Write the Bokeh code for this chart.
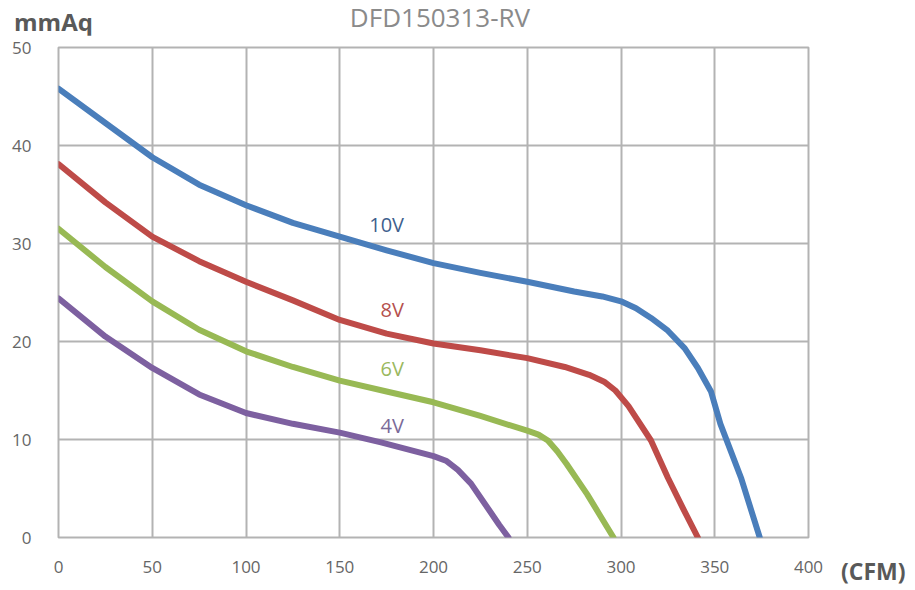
from bokeh.plotting import figure
from bokeh.models import Range1d, Label, FixedTicker, Div
from bokeh.layouts import column, row
from bokeh.embed import file_html
from bokeh.resources import INLINE

# ---- data ----
x_10v = [0, 25, 50, 75, 100, 125, 150, 175, 200, 225, 250, 275, 290, 300, 308, 316, 325, 334, 341, 348, 353, 364, 374]
y_10v = [45.8, 42.3, 38.8, 36.0, 33.9, 32.1, 30.7, 29.3, 28.0, 27.0, 26.1, 25.1, 24.6, 24.1, 23.4, 22.4, 21.1, 19.3, 17.3, 14.9, 11.6, 6.1, 0]

x_8v = [0, 25, 50, 75, 100, 125, 150, 175, 200, 225, 250, 270, 283, 291, 297, 304, 316, 325, 333, 341]
y_8v = [38.1, 34.2, 30.7, 28.2, 26.1, 24.2, 22.2, 20.8, 19.8, 19.1, 18.3, 17.4, 16.6, 15.9, 15.0, 13.4, 9.9, 6.1, 3.0, 0]

x_6v = [0, 25, 50, 75, 100, 125, 150, 175, 200, 225, 250, 256, 261, 266, 271, 282, 289, 296]
y_6v = [31.5, 27.6, 24.1, 21.2, 19.0, 17.4, 16.0, 14.9, 13.8, 12.4, 10.9, 10.5, 9.9, 8.8, 7.5, 4.4, 2.2, 0]

x_4v = [0, 25, 50, 75, 100, 125, 150, 172, 200, 207, 213, 220, 230, 235, 240]
y_4v = [24.4, 20.5, 17.3, 14.6, 12.7, 11.6, 10.7, 9.7, 8.3, 7.8, 6.9, 5.5, 2.7, 1.3, 0]

series_names = ["10V", "8V", "6V", "4V"]
label_x = [175, 178, 178, 178]
label_y = [31.9, 23.3, 17.2, 11.4]

x_ticks = [0, 50, 100, 150, 200, 250, 300, 350, 400]
y_ticks = [0, 10, 20, 30, 40, 50]

title_text = "DFD150313-RV"
y_unit = "mmAq"
x_unit = "(CFM)"

line_colors = ["#4a7ebb", "#be4b48", "#98b954", "#7d60a0"]
text_colors = ["#3f5f8e", "#b5504d", "#9ab85e", "#7a6a98"]
FONT = "Open Sans"

TOP_H = 35
PW, PH = 830, 553
p = figure(width=PW, height=PH, output_backend="svg", toolbar_location=None,
           x_range=Range1d(0, 400), y_range=Range1d(0, 50),
           min_border_left=58, min_border_right=PW - 58 - 750,
           min_border_top=12, min_border_bottom=PH - 12 - 490, margin=0)
p.background_fill_color = "white"
p.border_fill_color = "white"
p.outline_line_color = "#b3b3b3"
p.outline_line_width = 2

for ax in (p.xaxis[0], p.yaxis[0]):
    ax.axis_line_color = None
    ax.major_tick_line_color = None
    ax.minor_tick_line_color = None
    ax.major_label_text_font = FONT
    ax.major_label_text_font_size = "17px"
    ax.major_label_text_color = "#666666"

p.xaxis.ticker = FixedTicker(ticks=x_ticks)
p.yaxis.ticker = FixedTicker(ticks=y_ticks)
p.xaxis.major_label_standoff = 17
p.yaxis.major_label_standoff = 21

p.xgrid.ticker = FixedTicker(ticks=x_ticks)
p.ygrid.ticker = FixedTicker(ticks=y_ticks)
for g in (p.xgrid[0], p.ygrid[0]):
    g.grid_line_color = "#b3b3b3"
    g.grid_line_width = 2

xs = [x_10v, x_8v, x_6v, x_4v]
ys = [y_10v, y_8v, y_6v, y_4v]
for x, y, c in zip(xs, ys, line_colors):
    p.line(x, y, line_color=c, line_width=6, line_cap="round", line_join="round")

for name, lx, ly, tc in zip(series_names, label_x, label_y, text_colors):
    p.add_layout(Label(x=lx, y=ly, text=name, text_color=tc, text_font=FONT,
                       text_font_size="20px", text_align="center", text_baseline="middle"))

span = "position:absolute;white-space:nowrap;font-family:'Open Sans';line-height:28px;"
top_html = (
    f'<div style="position:relative;width:905px;height:{TOP_H}px;">'
    f'<span style="{span}left:14px;top:8px;font-size:24px;font-weight:bold;color:#595959;">{y_unit}</span>'
    f'<span style="{span}left:240px;width:400px;text-align:center;top:3px;font-size:26px;color:#8a8a8a;">{title_text}</span>'
    '</div>'
)
right_html = (
    f'<div style="position:relative;width:{905 - PW}px;height:{PH}px;">'
    f'<span style="{span}left:{841 - PW}px;top:{571 - TOP_H - 14}px;font-size:23px;font-weight:bold;color:#595959;">{x_unit}</span>'
    '</div>'
)
top_div = Div(text=top_html, width=905, height=TOP_H, margin=0)
right_div = Div(text=right_html, width=905 - PW, height=PH, margin=0)

layout = column(top_div, row(p, right_div, spacing=0), spacing=0)
open("out.html", "w").write(file_html(layout, INLINE))
